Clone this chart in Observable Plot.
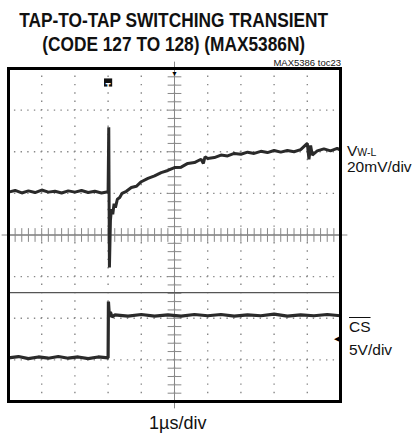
<!DOCTYPE html>
<html>
<head>
<meta charset="utf-8">
<script src="https://cdn.jsdelivr.net/npm/d3@7"></script>
<script src="https://cdn.jsdelivr.net/npm/@observablehq/plot@0.6"></script>
<style>
  html, body { margin: 0; padding: 0; background: #fff; }
  #wrap { position: relative; width: 413px; height: 434px; overflow: hidden; font-family: "Liberation Sans", Arial, sans-serif; }
  .t { position: absolute; white-space: nowrap; line-height: 1; color: #111; }
  .title { left: -126px; width: 600px; text-align: center; font-weight: bold; font-size: 21px; }
  .title span { display: inline-block; transform: scaleX(0.823); transform-origin: center; }
  #chart { position: absolute; left: 0; top: 0; }
</style>
</head>
<body>
<div id="wrap">
  <div id="chart"></div>
  <div class="t title" style="top:8.7px"><span id="title1"></span></div>
  <div class="t title" style="top:32.7px"><span id="title2"></span></div>
  <div class="t" id="toc" style="top:58px; right:72px; font-size:9.5px;"></div>
  <div class="t" id="lab1" style="left:347px; top:143px; font-size:15.5px;"></div>
  <div class="t" id="lab1b" style="left:347px; top:159px; font-size:15.5px;"></div>
  <div class="t" id="lab2" style="left:349px; top:319px; font-size:15.5px;"></div>
  <div class="t" id="lab2b" style="left:349px; top:342px; font-size:15.5px;"></div>
  <div class="t" id="xlab" style="left:149px; top:414px; font-size:18px;"></div>
</div>
<script>
// ---- text ----
const titleLines = ["TAP-TO-TAP SWITCHING TRANSIENT", "(CODE 127 TO 128) (MAX5386N)"];
const tocLabel = "MAX5386 toc23";
const ch1Name = ["V", "W-L"];
const ch1Scale = "20mV/div";
const ch2Name = "CS";
const ch2Scale = "5V/div";
const timeScale = "1µs/div";

// ---- data (time in µs, level in divisions from screen centre) ----
const vwlTime = [0, 0.2, 0.4, 0.6, 0.8, 1.0, 1.2, 1.4, 1.6, 1.8, 2.0, 2.2, 2.4, 2.6, 2.8, 3.0,
  3.02, 3.04, 3.07, 3.10, 3.14, 3.18, 3.22, 3.28, 3.35, 3.42, 3.55, 3.7, 3.85, 4.0, 4.2, 4.4, 4.6, 4.8,
  5.0, 5.2, 5.4, 5.6, 5.8, 5.87, 5.92, 6.0, 6.2, 6.4, 6.6, 6.8, 7.0, 7.2, 7.4, 7.6, 7.8, 8.0, 8.2, 8.4,
  8.6, 8.8, 9.0, 9.05, 9.1, 9.15, 9.3, 9.5, 9.7, 9.9, 10];
const vwlLevel = [1.03, 1.07, 1.01, 1.06, 1.02, 1.08, 1.03, 1.05, 1.01, 1.06, 1.03, 1.07, 1.02, 1.05, 1.01, 1.04,
  2.59, -0.78, 0.35, 0.62, 0.50, 0.75, 0.66, 0.86, 0.90, 1.00, 1.05, 1.14, 1.17, 1.28, 1.36, 1.42, 1.50, 1.55,
  1.62, 1.63, 1.72, 1.74, 1.82, 1.72, 1.88, 1.84, 1.86, 1.92, 1.90, 1.96, 1.94, 1.99, 1.96, 2.01, 1.98, 2.03, 1.99, 2.03,
  2.00, 2.05, 2.20, 1.82, 2.15, 1.92, 2.02, 2.07, 2.02, 2.08, 2.04];

const csTime = [0, 0.3, 0.6, 0.9, 1.2, 1.5, 1.8, 2.1, 2.4, 2.7, 3.0, 3.01, 3.04, 3.07, 3.12, 3.2,
  3.6, 4.0, 4.4, 4.8, 5.2, 5.6, 6.0, 6.4, 6.8, 7.2, 7.6, 8.0, 8.4, 8.8, 9.2, 9.6, 10];
const csLevel = [-2.95, -2.92, -2.97, -2.93, -2.96, -2.92, -2.96, -2.93, -2.97, -2.93, -2.95, -1.60, -1.97, -1.85, -1.97, -1.92,
  -1.95, -1.91, -1.95, -1.92, -1.95, -1.91, -1.94, -1.91, -1.95, -1.92, -1.94, -1.90, -1.95, -1.92, -1.94, -1.91, -1.94];

const refLevel = [-1.385];       // solid reference line
const triggerTime = [3];         // trigger marker position
const ch2Marker = [-2.5];        // CS channel marker on the right edge

// ---- grid ----
const majorX = d3.range(1, 10);
const majorY = d3.range(-3, 4).filter(d => d !== 0);
const minorX = d3.range(0, 50.001, 1).map(d => d / 5);
const minorY = d3.range(-20, 20.001, 1).map(d => d / 5);

const vwl = vwlTime.map((t, i) => ({t, v: vwlLevel[i]}));
const cs = csTime.map((t, i) => ({t, v: csLevel[i]}));

document.getElementById("title1").textContent = titleLines[0];
document.getElementById("title2").textContent = titleLines[1];
document.getElementById("toc").textContent = tocLabel;
document.getElementById("lab1").innerHTML = ch1Name[0] + '<span style="font-size:10.5px">' + ch1Name[1] + '</span>';
document.getElementById("lab1b").textContent = ch1Scale;
document.getElementById("lab2").innerHTML = '<span style="text-decoration:overline">' + ch2Name + '</span>';
document.getElementById("lab2b").textContent = ch2Scale;
document.getElementById("xlab").textContent = timeScale;

const chart = Plot.plot({
  width: 413,
  height: 434,
  marginLeft: 8,
  marginRight: 73,
  marginTop: 68,
  marginBottom: 33,
  x: {domain: [0, 10], axis: null},
  y: {domain: [-4, 4], axis: null},
  style: {background: "transparent"},
  marks: [
    Plot.ruleX(majorX, {stroke: "#888", strokeWidth: 1.4, strokeDasharray: "1.4,6.92", strokeDashoffset: 0.7}),
    Plot.ruleY(majorY, {stroke: "#888", strokeWidth: 1.4, strokeDasharray: "1.4,5.24", strokeDashoffset: 0.7}),
    Plot.ruleX([5], {stroke: "#aaa", strokeWidth: 1}),
    Plot.ruleY([0], {stroke: "#aaa", strokeWidth: 1}),
    Plot.dot(minorY, {x: 5, y: d => d, symbol: "plus", r: 4.5, stroke: "#888", strokeWidth: 1}),
    Plot.dot(minorX, {x: d => d, y: 0, symbol: "plus", r: 4.5, stroke: "#888", strokeWidth: 1}),
    Plot.ruleY(refLevel, {stroke: "#555", strokeWidth: 1.3}),
    Plot.line(vwl, {x: "t", y: "v", stroke: "#2a2a2a", strokeWidth: 3, strokeLinejoin: "miter"}),
    Plot.line(cs, {x: "t", y: "v", stroke: "#2a2a2a", strokeWidth: 3.2, strokeLinejoin: "miter"}),
    Plot.frame({stroke: "#000", strokeWidth: 3}),
    Plot.dot(triggerTime, {x: d => d, frameAnchor: "top", dy: 14, symbol: "square", r: 4.6, fill: "#111"}),
    Plot.text(triggerTime, {x: d => d, frameAnchor: "top", dy: 14, text: () => "T", fill: "#fff", fontSize: 9, fontWeight: "bold"}),
    Plot.text([5], {x: d => d, frameAnchor: "top", dy: 3, text: () => "▼", fill: "#000", fontSize: 7}),
    Plot.text(ch2Marker, {x: 10, y: d => d, dx: -4, text: () => "◀", fill: "#000", fontSize: 7})
  ]
});
document.getElementById("chart").appendChild(chart);
</script>
</body>
</html>
